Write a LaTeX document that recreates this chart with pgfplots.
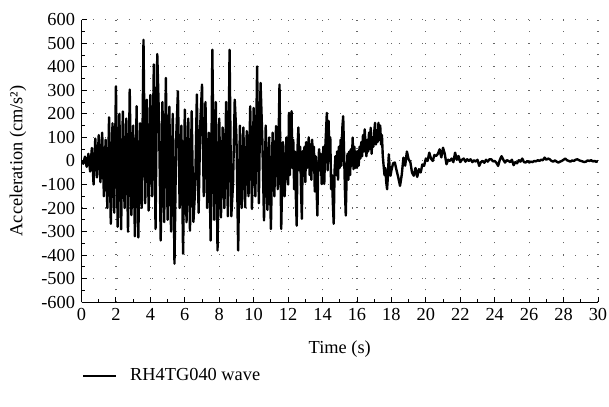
\documentclass[border=0pt]{standalone}
\usepackage{fontspec}
\setmainfont{Liberation Serif}
\usepackage{pgfplots}
\pgfplotsset{compat=1.18}
\pgfplotstableread[row sep=\\]{
t a\\
0 0\\0.1 -12\\0.2 18\\0.3 -25\\0.4 30\\0.5 -45\\0.6 55\\0.7 -100\\0.8 95\\0.9 -70\\
1.0 110\\1.1 -90\\1.2 120\\1.3 -150\\1.4 90\\1.5 -200\\1.6 185\\1.7 -267\\1.8 160\\1.9 -220\\
2.0 317\\2.1 -280\\2.2 200\\2.3 -290\\2.4 210\\2.5 -200\\2.6 180\\2.7 -300\\2.8 303\\2.9 -230\\
3.0 150\\3.1 -320\\3.2 232\\3.3 -325\\3.4 160\\3.5 -200\\3.6 514\\3.7 -180\\3.8 260\\3.9 -211\\
4.0 280\\4.1 -150\\4.2 410\\4.3 -289\\4.4 454\\4.5 180\\4.6 -338\\4.7 250\\4.8 -260\\4.9 352\\
5.0 -250\\5.1 230\\5.2 -300\\5.3 200\\5.4 -436\\5.5 100\\5.6 296\\5.7 -200\\5.8 150\\5.9 -394\\
6.0 218\\6.1 -260\\6.2 180\\6.3 -296\\6.4 211\\6.5 -259\\6.6 -120\\6.7 282\\6.8 -220\\6.9 160\\
7.0 324\\7.1 -150\\7.2 250\\7.3 -200\\7.4 120\\7.5 -338\\7.6 472\\7.7 -250\\7.8 250\\7.9 -380\\
8.0 180\\8.1 -240\\8.2 142\\8.3 -200\\8.4 250\\8.5 -235\\8.6 472\\8.7 -235\\8.8 -100\\8.9 260\\
9.0 100\\9.1 -380\\9.2 150\\9.3 -200\\9.4 142\\9.5 -197\\9.6 127\\9.7 -150\\9.8 232\\9.9 -204\\
10.0 225\\10.1 -150\\10.2 401\\10.3 -180\\10.4 331\\10.5 100\\10.6 -253\\10.7 150\\10.8 -208\\10.9 100\\
11.0 -289\\11.1 120\\11.2 -150\\11.3 148\\11.4 -120\\11.5 324\\11.6 -289\\11.7 80\\11.8 -150\\11.9 100\\
12.00 -100\\12.05 204\\12.10 -60\\12.15 100\\12.20 211\\12.25 -30\\12.30 90\\12.35 -120\\12.40 40\\12.45 -150\\
12.50 -275\\12.55 60\\12.60 142\\12.65 -40\\12.70 60\\12.75 -120\\12.80 -246\\12.85 42\\12.90 -56\\12.95 60\\
13.00 -90\\13.05 80\\13.10 -30\\13.15 40\\13.20 100\\13.25 -60\\13.30 70\\13.35 -80\\13.40 90\\13.45 -40\\
13.50 60\\13.55 -130\\13.60 20\\13.65 -100\\13.70 -232\\13.75 -20\\13.80 50\\13.85 -40\\13.90 30\\13.95 -98\\
14.00 -20\\14.05 60\\14.10 -98\\14.15 40\\14.20 120\\14.25 204\\14.30 -40\\14.35 170\\14.40 30\\14.45 100\\
14.50 -120\\14.55 -60\\14.60 -180\\14.65 -267\\14.70 -40\\14.75 20\\14.80 -60\\14.85 40\\14.90 -80\\14.95 60\\
15.00 -30\\15.05 90\\15.10 -20\\15.15 140\\15.20 190\\15.25 40\\15.30 -120\\15.35 -232\\15.40 -60\\15.45 30\\
15.50 -80\\15.55 40\\15.60 -60\\15.65 50\\15.70 -20\\15.75 99\\15.80 -35\\15.85 60\\15.90 -30\\15.95 40\\
16.00 -30\\16.05 42\\16.10 -20\\16.15 60\\16.20 10\\16.25 80\\16.30 20\\16.35 110\\16.40 40\\16.45 134\\
16.50 60\\16.55 20\\16.60 90\\16.65 40\\16.70 120\\16.75 50\\16.80 141\\16.85 30\\16.90 100\\16.95 60\\
17.00 120\\17.05 162\\17.10 70\\17.15 130\\17.20 80\\17.25 162\\17.30 90\\17.35 150\\17.40 70\\17.45 110\\
17.50 20\\17.55 -21\\17.60 -60\\17.65 -30\\17.70 -90\\17.75 -120\\17.80 -60\\17.85 28\\17.90 -30\\17.95 -63\\
18.0 -40\\18.1 -10\\18.2 -7\\18.3 -40\\18.4 -70\\18.5 -106\\18.6 -60\\18.7 14\\18.8 -20\\18.9 40\\
19.0 7\\19.1 -5\\19.2 -50\\19.3 -63\\19.4 -30\\19.5 -68\\19.6 -35\\19.7 -49\\19.8 -15\\19.9 -21\\
20.0 10\\20.1 0\\20.2 35\\20.3 10\\20.4 0\\20.5 25\\20.6 21\\20.7 30\\20.8 49\\20.9 15\\
21.0 56\\21.1 30\\21.2 -14\\21.3 5\\21.4 0\\21.5 10\\21.6 -5\\21.7 35\\21.8 5\\21.9 21\\
22.0 -5\\22.1 5\\22.2 10\\22.3 -3\\22.4 7\\22.5 0\\22.6 7\\22.7 -5\\22.8 3\\22.9 -3\\
23.0 5\\23.1 -21\\23.2 -5\\23.3 0\\23.4 -8\\23.5 5\\23.6 -3\\23.7 7\\23.8 7\\23.9 -2\\
24.0 0\\24.1 -8\\24.2 -21\\24.3 5\\24.4 20\\24.5 5\\24.6 -7\\24.7 3\\24.8 0\\24.9 -5\\
25.0 5\\25.1 -18\\25.2 -5\\25.3 -10\\25.4 3\\25.5 -3\\25.6 10\\25.7 -5\\25.8 -7\\25.9 0\\
26.0 -7\\26.1 -3\\26.2 -5\\26.3 0\\26.4 -2\\26.5 3\\26.6 0\\26.7 5\\26.8 3\\26.9 14\\
27.0 5\\27.1 10\\27.2 7\\27.3 0\\27.4 -3\\27.5 2\\27.6 -3\\27.7 -7\\27.8 -3\\27.9 0\\
28.0 5\\28.1 10\\28.2 3\\28.3 0\\28.4 -3\\28.5 2\\28.6 0\\28.7 5\\28.8 7\\28.9 3\\
29.0 0\\29.1 -2\\29.2 -5\\29.3 -3\\29.4 2\\29.5 0\\29.6 3\\29.7 -2\\29.8 0\\29.9 -4\\30.0 0\\
}\wave
\begin{document}
\begin{tikzpicture}
\begin{axis}[
  name=ax,
  scale only axis,
  width=281.3pt, height=153.9pt,
  xmin=0, xmax=30, ymin=-600, ymax=600,
  axis lines=left,
  axis line style={-, line width=0.6pt, black},
  xtick distance=2, ytick distance=100,
  minor x tick num=1, minor y tick num=1,
  tick align=inside,
  major tick length=3pt, minor tick length=2pt,
  tick style={black, line width=0.5pt},
  grid=major,
  major grid style={gray!80!black, line width=0.6pt, dash pattern=on 0.6pt off 5.8pt},
  /pgf/number format/assume math mode=true,
  ticklabel style={font=\fontsize{10}{12}\selectfont},
  xlabel={Time (s)}, ylabel={Acceleration (cm/s²)},
  label style={font=\fontsize{10}{12}\selectfont},
  xlabel style={at={(axis description cs:0.5,-0.165)}, anchor=center},
  ylabel style={at={(axis description cs:-0.123,0.5)}, anchor=center},
  legend image code/.code={\draw[#1] (0pt,0pt) -- (18pt,0pt);},
  legend style={draw=none, fill=none, at={(axis description cs:0,-0.262)}, anchor=west, inner xsep=0pt,
    font=\fontsize{10}{12}\selectfont, /tikz/every odd column/.append style={column sep=5pt}},
  legend cell align=left,
]
\addplot[black, line width=1.3pt, line join=round, mark=none] table[x=t, y=a] {\wave};
\addlegendentry{RH4TG040 wave}
\end{axis}
\pgfresetboundingbox
\path[use as bounding box] ([xshift=-44.4pt,yshift=-57pt]ax.south west) rectangle ([xshift=6pt,yshift=10.7pt]ax.north east);
\end{tikzpicture}
\end{document}
